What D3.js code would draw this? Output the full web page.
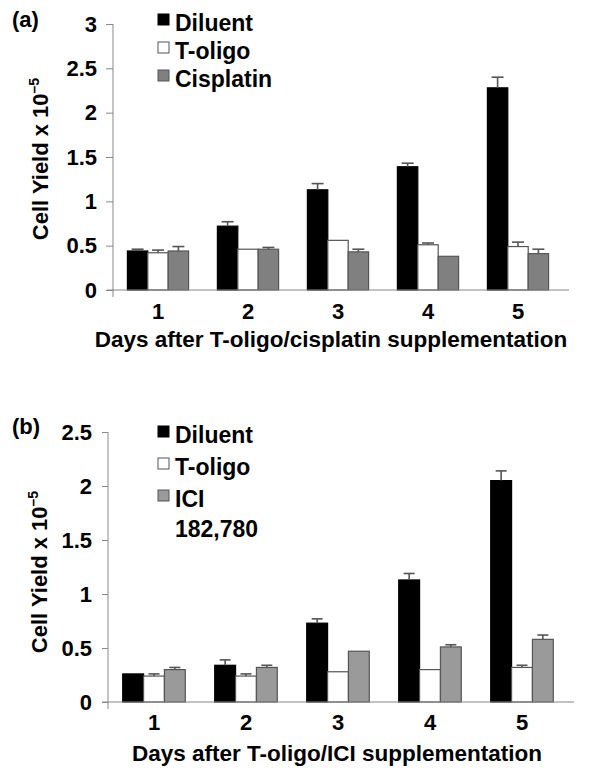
<!DOCTYPE html>
<html>
<head>
<meta charset="utf-8">
<script src="https://cdn.jsdelivr.net/npm/d3@7"></script>
<style>
  html, body { margin: 0; padding: 0; background: #fff; }
  svg { display: block; }
  text { font-family: "Liberation Sans", Arial, Helvetica, sans-serif; font-weight: bold; fill: #000; }
</style>
</head>
<body>
<svg id="chart" width="600" height="770"></svg>
<script>
// ---------- data ----------
const days = ["1", "2", "3", "4", "5"];

// Panel (a)
const seriesA = ["Diluent", "T-oligo", "Cisplatin"];
const aDiluent    = [0.44, 0.72, 1.13, 1.39, 2.28];
const aDiluentErr = [0.02, 0.05, 0.07, 0.04, 0.12];
const aToligo     = [0.42, 0.46, 0.56, 0.51, 0.49];
const aToligoErr  = [0.03, 0.00, 0.00, 0.02, 0.05];
const aCisplatin    = [0.44, 0.46, 0.43, 0.38, 0.41];
const aCisplatinErr = [0.05, 0.02, 0.03, 0.00, 0.05];
const yTicksA = [0, 0.5, 1, 1.5, 2, 2.5, 3];

// Panel (b)
const seriesB = ["Diluent", "T-oligo", "ICI"];
const bDiluent    = [0.26, 0.34, 0.73, 1.13, 2.05];
const bDiluentErr = [0.00, 0.05, 0.04, 0.06, 0.09];
const bToligo     = [0.24, 0.24, 0.28, 0.30, 0.32];
const bToligoErr  = [0.02, 0.02, 0.00, 0.00, 0.02];
const bIci        = [0.30, 0.32, 0.47, 0.51, 0.58];
const bIciErr     = [0.02, 0.02, 0.00, 0.02, 0.04];
const yTicksB = [0, 0.5, 1, 1.5, 2, 2.5];

// ---------- drawing ----------
const svg = d3.select("#chart");

function drawPanel(cfg) {
  const g = svg.append("g");
  const x = d3.scaleBand().domain(days).range([cfg.left, cfg.right])
    .paddingInner(0.32).paddingOuter(0.16);
  const sub = d3.scaleBand().domain(cfg.series.map((d, i) => i)).range([0, x.bandwidth()]);
  const y = d3.scaleLinear().domain([0, cfg.yMax]).range([cfg.bottom, cfg.top]);

  // y axis
  const ya = g.append("g").attr("transform", `translate(${cfg.left},0)`)
    .call(d3.axisLeft(y).tickValues(cfg.ticks).tickFormat(d => String(d))
      .tickSize(cfg.tickSize).tickPadding(cfg.tickPad));
  ya.select(".domain").remove();
  ya.selectAll(".tick line").attr("stroke", "#888").attr("stroke-width", 1);
  ya.selectAll(".tick text").attr("font-size", 22).attr("font-weight", "bold")
    .attr("font-family", "'Liberation Sans', Arial, sans-serif").attr("fill", "#000");
  g.append("line").attr("x1", cfg.left).attr("x2", cfg.left)
    .attr("y1", y(cfg.yMax)).attr("y2", cfg.bottom + 7)
    .attr("stroke", "#888").attr("stroke-width", 1);

  // bars
  const colors = ["#000000", "#ffffff", cfg.gray];
  cfg.values.forEach((vals, si) => {
    g.append("g").selectAll("rect").data(days).join("rect")
      .attr("x", d => x(d) + sub(si))
      .attr("width", sub.bandwidth())
      .attr("y", (d, i) => y(vals[i]))
      .attr("height", (d, i) => cfg.bottom - y(vals[i]))
      .attr("fill", colors[si])
      .attr("stroke", si === 0 ? "#000" : "#555")
      .attr("stroke-width", 1.2);
    // error bars
    const errs = cfg.errors[si];
    const eg = g.append("g").attr("stroke", "#555").attr("stroke-width", 1.6);
    days.forEach((d, i) => {
      if (errs[i] <= 0) return;
      const cx = x(d) + sub(si) + sub.bandwidth() / 2;
      eg.append("line").attr("x1", cx).attr("x2", cx)
        .attr("y1", y(vals[i])).attr("y2", y(vals[i] + errs[i]));
      eg.append("line").attr("x1", cx - cfg.cap / 2).attr("x2", cx + cfg.cap / 2)
        .attr("y1", y(vals[i] + errs[i])).attr("y2", y(vals[i] + errs[i]));
    });
  });

  // x axis baseline
  g.append("line").attr("x1", cfg.left - 6).attr("x2", cfg.right + 6)
    .attr("y1", cfg.bottom).attr("y2", cfg.bottom)
    .attr("stroke", "#888").attr("stroke-width", 1.2);

  // x tick labels
  g.append("g").selectAll("text").data(days).join("text")
    .attr("x", d => x(d) + x.bandwidth() / 2)
    .attr("y", cfg.xLabelY)
    .attr("text-anchor", "middle").attr("font-size", 22)
    .text(d => d);

  // x title
  g.append("text").attr("x", cfg.xTitleX).attr("y", cfg.xTitleY)
    .attr("text-anchor", "middle").attr("font-size", 22.5)
    .text(cfg.xTitle);

  // y title
  const yt = g.append("text")
    .attr("transform", `translate(${cfg.yTitleX},${cfg.yTitleY}) rotate(-90)`)
    .attr("text-anchor", "middle").attr("font-size", 22);
  yt.append("tspan").text("Cell Yield x 10");
  yt.append("tspan").attr("font-size", 14).attr("dy", -9).text("\u20135");

  // panel label
  g.append("text").attr("x", 12).attr("y", cfg.labelY).attr("font-size", 22).text(cfg.label);

  // legend
  cfg.legend.forEach((item, i) => {
    const by = cfg.legendY[i];
    if (item.swatch >= 0) {
      g.append("rect").attr("x", 158).attr("y", by - 17).attr("width", 11).attr("height", 11)
        .attr("fill", colors[item.swatch]).attr("stroke", item.swatch === 0 ? "#000" : "#555")
        .attr("stroke-width", 1);
    }
    g.append("text").attr("x", 175).attr("y", by).attr("font-size", 23).text(item.text);
  });
}

drawPanel({
  series: seriesA,
  values: [aDiluent, aToligo, aCisplatin],
  errors: [aDiluentErr, aToligoErr, aCisplatinErr],
  gray: "#808080",
  left: 113, right: 563, top: 24, bottom: 290, yMax: 3, ticks: yTicksA,
  tickSize: 7, tickPad: 9, cap: 12,
  xLabelY: 319, xTitle: "Days after T-oligo/cisplatin supplementation", xTitleX: 331, xTitleY: 347,
  yTitleX: 48, yTitleY: 159,
  label: "(a)", labelY: 27,
  legend: [{swatch: 0, text: seriesA[0]}, {swatch: 1, text: seriesA[1]}, {swatch: 2, text: seriesA[2]}],
  legendY: [31, 59, 87]
});

drawPanel({
  series: seriesB,
  values: [bDiluent, bToligo, bIci],
  errors: [bDiluentErr, bToligoErr, bIciErr],
  gray: "#9a9a9a",
  left: 108, right: 568, top: 432, bottom: 702, yMax: 2.5, ticks: yTicksB,
  tickSize: 6, tickPad: 10, cap: 11,
  xLabelY: 730, xTitle: "Days after T-oligo/ICI supplementation", xTitleX: 337, xTitleY: 761,
  yTitleX: 47, yTitleY: 572,
  label: "(b)", labelY: 434,
  legend: [{swatch: 0, text: seriesB[0]}, {swatch: 1, text: seriesB[1]}, {swatch: 2, text: "ICI"}, {swatch: -1, text: "182,780"}],
  legendY: [443, 475, 507, 537]
});
</script>
</body>
</html>
